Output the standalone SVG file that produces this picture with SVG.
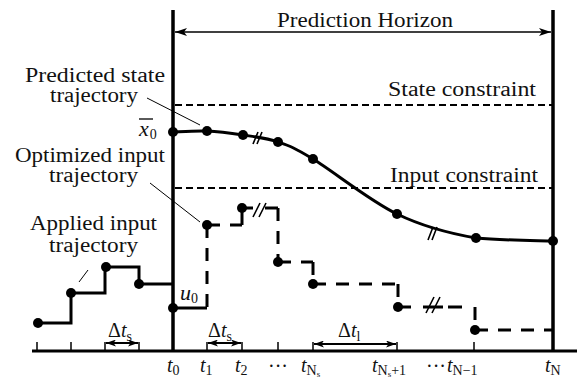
<svg xmlns="http://www.w3.org/2000/svg" width="577" height="380" viewBox="0 0 577 380" font-family="Liberation Serif, DejaVu Serif, serif">
<defs>
<marker id="ah" viewBox="0 0 12 8" refX="12" refY="4" markerWidth="12" markerHeight="8" markerUnits="userSpaceOnUse" orient="auto-start-reverse"><path d="M0,0 L12,4 L0,8 L3,4 z" fill="#000"/></marker>
<marker id="ahs" viewBox="0 0 10 7" refX="10" refY="3.5" markerWidth="10" markerHeight="7" markerUnits="userSpaceOnUse" orient="auto-start-reverse"><path d="M0,0 L10,3.5 L0,7 L2.5,3.5 z" fill="#000"/></marker>
</defs>
<style>
text{font-family:"Liberation Serif","DejaVu Serif",serif}
.t{font-size:20px;fill:#111}
.m{font-style:italic}
.s{font-size:14px;font-style:normal}
.ss{font-size:9px;font-style:normal}
.bold{fill:none;stroke:#000;stroke-width:3;stroke-linejoin:miter}
.dash{fill:none;stroke:#000;stroke-width:3;stroke-dasharray:13 10}
.con{fill:none;stroke:#000;stroke-width:2;stroke-dasharray:7 4}
.thin{fill:none;stroke:#000;stroke-width:1}
.brk{fill:none;stroke:#000;stroke-width:1.6}
.tick{stroke:#000;stroke-width:1.5}
.dot{fill:#000}
</style>
<rect width="577" height="380" fill="#fff"/>

<g id="axes">
<line x1="32" y1="351" x2="577" y2="351" stroke="#000" stroke-width="3"/>
<line x1="173" y1="10" x2="173" y2="352" stroke="#000" stroke-width="3.5"/>
<line x1="553" y1="10" x2="553" y2="352" stroke="#000" stroke-width="3.5"/>
<g class="tick">
<line x1="37" y1="342" x2="37" y2="351"/><line x1="71" y1="342" x2="71" y2="351"/>
<line x1="105" y1="342" x2="105" y2="351"/><line x1="139" y1="342" x2="139" y2="351"/>
<line x1="207" y1="342" x2="207" y2="351"/><line x1="242" y1="342" x2="242" y2="351"/>
<line x1="278" y1="342" x2="278" y2="351"/><line x1="313" y1="342" x2="313" y2="351"/>
<line x1="397" y1="342" x2="397" y2="351"/><line x1="474" y1="342" x2="474" y2="351"/>
</g>
</g>

<g id="constraints">
<line class="con" x1="175" y1="105" x2="552" y2="105"/>
<line class="con" x1="175" y1="188" x2="552" y2="188"/>
<text class="t" x="388" y="96" textLength="148" lengthAdjust="spacingAndGlyphs">State constraint</text>
<text class="t" x="390" y="182" textLength="148" lengthAdjust="spacingAndGlyphs">Input constraint</text>
</g>

<g id="state-trajectory">
<path class="bold" d="M173,132 C178.7,131.8 195.3,130.5 207,131 C218.7,131.5 231.2,133.2 243,135 C254.8,136.8 266.3,138 278,142 C289.7,146 293.2,147 313,159 C332.8,171 369.8,200.8 397,214 C424.2,227.2 450,233.5 476,238 C502,240.5 540.2,240.5 553,241"/>
<path class="brk" d="M253,144 L258,132 M257,144 L262,132 M428,240 L433,227 M432,240 L437,227"/>
<g class="dot">
<circle cx="173" cy="132" r="5"/><circle cx="207" cy="131" r="5"/><circle cx="243" cy="135" r="5"/>
<circle cx="278" cy="142" r="5"/><circle cx="313" cy="159" r="5"/><circle cx="397" cy="214" r="5"/>
<circle cx="476" cy="238" r="5"/><circle cx="553" cy="241" r="5"/>
</g>
</g>

<g id="applied-input">
<path class="bold" d="M38,323 H71 V293 H105 V267 H139 V284 H173"/>
<path class="bold" d="M173,308 H207"/>
<g class="dot">
<circle cx="38" cy="323" r="5"/><circle cx="71" cy="293" r="5"/><circle cx="106" cy="267" r="5"/>
<circle cx="139" cy="284" r="5"/><circle cx="173" cy="308" r="5"/>
</g>
</g>

<g id="optimized-input">
<path class="dash" d="M207,225 V308"/>
<path class="dash" d="M207,225 H242"/>
<path class="bold" d="M242,208 V225"/>
<path class="dash" style="stroke-dasharray:11 12 13 100" d="M242,208 H278"/>
<path class="dash" d="M278,208 V262"/>
<path class="dash" d="M278,262 H313"/>
<path class="dash" d="M313,262 V284"/>
<path class="dash" d="M313,284 H398"/>
<path class="dash" d="M398,284 V307"/>
<path class="dash" style="stroke-dasharray:13 12 20 5 14 100" d="M398,307 H475"/>
<path class="dash" d="M475,307 V330"/>
<path class="dash" d="M475,330 H553"/>
<path class="brk" d="M253,217 L260,203 M259,217 L266,203 M426,313 L434,297 M432,313 L440,297"/>
<g class="dot">
<circle cx="207" cy="225" r="5"/><circle cx="242" cy="208" r="5"/><circle cx="278" cy="262" r="5"/>
<circle cx="313" cy="284" r="5"/><circle cx="398" cy="307" r="5"/><circle cx="475" cy="330" r="5"/>
</g>
</g>

<g id="labels">
<text class="t" x="277" y="27" textLength="176" lengthAdjust="spacingAndGlyphs">Prediction Horizon</text>
<text class="t" x="25" y="82" textLength="140" lengthAdjust="spacingAndGlyphs">Predicted state</text>
<text class="t" x="50" y="102" textLength="88" lengthAdjust="spacingAndGlyphs">trajectory</text>
<text class="t" x="15" y="162" textLength="150" lengthAdjust="spacingAndGlyphs">Optimized input</text>
<text class="t" x="49" y="182" textLength="89" lengthAdjust="spacingAndGlyphs">trajectory</text>
<text class="t" x="30" y="230" textLength="127" lengthAdjust="spacingAndGlyphs">Applied input</text>
<text class="t" x="49" y="252" textLength="89" lengthAdjust="spacingAndGlyphs">trajectory</text>
<g id="x0">
<line x1="139" y1="119" x2="153" y2="119" stroke="#000" stroke-width="1.3"/>
<text class="t m" x="139" y="136" style="font-size:22px">x<tspan class="s" dy="3" dx="1">0</tspan></text>
</g>
<text class="t m" x="180" y="300" style="font-size:22px">u<tspan class="s" dy="3">0</tspan></text>
<text class="t" x="108" y="337">Δ<tspan class="m">t</tspan><tspan class="s" dy="4">s</tspan></text>
<text class="t" x="208" y="337">Δ<tspan class="m">t</tspan><tspan class="s" dy="4">s</tspan></text>
<text class="t" x="338" y="337">Δ<tspan class="m">t</tspan><tspan class="s" dy="4">l</tspan></text>
<text class="t m" x="167" y="372">t<tspan class="s" dy="3">0</tspan></text>
<text class="t m" x="200" y="372">t<tspan class="s" dy="3">1</tspan></text>
<text class="t m" x="235" y="372">t<tspan class="s" dy="3">2</tspan></text>
<text class="t" x="278" y="373" text-anchor="middle">···</text>
<text class="t m" x="301" y="372">t<tspan class="s m" dy="3">N</tspan><tspan class="ss" dy="2">s</tspan></text>
<text class="t m" x="372" y="372">t<tspan class="s m" dy="3">N</tspan><tspan class="ss" dy="2">s</tspan><tspan class="s" dy="-2">+1</tspan></text>
<text class="t" x="436" y="373" text-anchor="middle">···</text>
<text class="t m" x="447" y="372">t<tspan class="s m" dy="3">N</tspan><tspan class="s">−1</tspan></text>
<text class="t m" x="545" y="372">t<tspan class="s m" dy="3">N</tspan></text>
</g>

<g id="connectors">
<line x1="175" y1="32" x2="551" y2="32" stroke="#000" stroke-width="1.6" marker-start="url(#ah)" marker-end="url(#ah)"/>
<line x1="208" y1="343" x2="241" y2="343" stroke="#000" stroke-width="2" marker-start="url(#ahs)" marker-end="url(#ahs)"/>
<line x1="106" y1="343" x2="138" y2="343" stroke="#000" stroke-width="2" marker-start="url(#ahs)" marker-end="url(#ahs)"/>
<line x1="314" y1="344" x2="396" y2="344" stroke="#000" stroke-width="2" marker-start="url(#ahs)" marker-end="url(#ahs)"/>
<line class="thin" x1="147" y1="98" x2="200" y2="125"/>
<line class="thin" x1="150" y1="183" x2="200" y2="222"/>
<line class="thin" x1="79" y1="282" x2="88" y2="270"/>
</g>
</svg>
